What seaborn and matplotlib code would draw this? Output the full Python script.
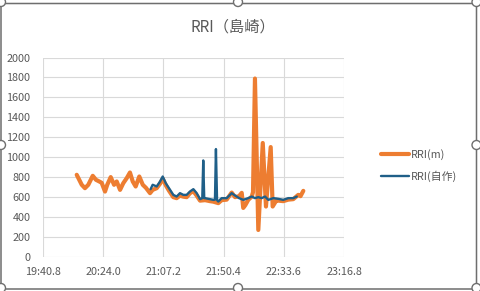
import matplotlib
matplotlib.use("Agg")
import matplotlib.pyplot as plt
from matplotlib.patches import FancyBboxPatch, Ellipse
import seaborn as sns
import pandas as pd

# ---- data (time in seconds, RRI in ms) ----
orange_t = [1205.0, 1208.6, 1210.9, 1213.3, 1216.5, 1218.8, 1221.2, 1222.9, 1225.3, 1226.9,
            1229.4, 1231.8, 1233.7, 1236.1, 1238.4, 1240.9, 1243.2, 1245.2, 1247.3, 1249.9,
            1252.4, 1254.7, 1257.6, 1259.5, 1262.4, 1264.8, 1266.7, 1268.9, 1271.2, 1274.3,
            1276.7, 1279.1, 1281.5, 1283.9, 1286.3, 1288.7, 1291.1, 1293.5, 1297.1, 1300.6,
            1303.0, 1306.6, 1309.0, 1312.6, 1316.2, 1318.6, 1321.5, 1323.4, 1324.5, 1326.0,
            1328.1, 1330.6, 1331.5, 1332.9, 1335.3, 1338.5, 1340.8, 1344.2, 1345.6, 1348.5,
            1349.7, 1353.2, 1356.8, 1360.4, 1364.0, 1365.6, 1367.6]
orange_v = [824, 724, 690, 724, 814, 774, 757, 744, 656, 724,
            801, 724, 757, 673, 740, 791, 847, 757, 707, 807,
            724, 693, 640, 673, 690, 735, 785, 720, 665, 600,
            590, 615, 605, 600, 640, 660, 615, 565, 570, 560,
            555, 540, 570, 575, 646, 600, 610, 643, 492, 520,
            573, 606, 650, 1789, 271, 1143, 506, 1102, 506, 573,
            565, 560, 575, 580, 623, 610, 663]

blue_t = [1258.0, 1259.5, 1262.4, 1264.8, 1266.7, 1268.9, 1271.2, 1274.3, 1276.7, 1279.1,
          1281.5, 1283.9, 1286.3, 1288.7, 1291.1, 1293.5, 1295.1, 1295.8, 1296.5, 1297.1,
          1300.6, 1303.0, 1304.2, 1304.9, 1305.7, 1306.6, 1309.0, 1312.6, 1316.2, 1318.6,
          1321.5, 1324.5, 1328.1, 1330.6, 1332.9, 1335.3, 1337.7, 1340.1, 1342.5, 1346.1,
          1349.7, 1353.2, 1356.8, 1360.4, 1362.9]
blue_v = [680, 724, 707, 757, 807, 740, 690, 623, 606, 640,
          623, 623, 657, 680, 640, 580, 590, 968, 590, 590,
          580, 573, 575, 1082, 570, 556, 590, 590, 640, 617,
          590, 573, 590, 606, 590, 600, 590, 606, 573, 590,
          583, 573, 590, 590, 606]

series_names = ["RRI(m)", "RRI(自作)"]
title = "RRI（島崎）"
x_ticks = [1180.8, 1224.0, 1267.2, 1310.4, 1353.6, 1396.8]
x_tick_labels = ["19:40.8", "20:24.0", "21:07.2", "21:50.4", "22:33.6", "23:16.8"]
y_ticks = [0, 200, 400, 600, 800, 1000, 1200, 1400, 1600, 1800, 2000]

# ---- style ----
sns.set_theme(style="white")
plt.rcParams["font.family"] = ["Noto Sans CJK JP", "DejaVu Sans"]
text_col = "#595959"
grid_col = "#D9D9D9"
orange = "#ED7D31"
blue = "#1F5F88"

fig = plt.figure(figsize=(4.8, 2.91), dpi=100)
fig.patch.set_facecolor("white")
ax = fig.add_axes([43 / 480, 1 - 257 / 291, (344 - 43) / 480, (257 - 57.5) / 291])
ax.set_facecolor("white")

df_o = pd.DataFrame({"t": orange_t, "v": orange_v})
df_b = pd.DataFrame({"t": blue_t, "v": blue_v})
sns.lineplot(data=df_o, x="t", y="v", ax=ax, color=orange, linewidth=3.0,
             label=series_names[0], sort=False, solid_joinstyle="round", solid_capstyle="round")
sns.lineplot(data=df_b, x="t", y="v", ax=ax, color=blue, linewidth=1.7,
             label=series_names[1], sort=False, solid_joinstyle="round", solid_capstyle="round")

ax.set_xlim(x_ticks[0], x_ticks[-1])
ax.set_ylim(0, 2000)
ax.set_xticks(x_ticks, x_tick_labels)
ax.set_yticks(y_ticks)
ax.grid(True, color=grid_col, linewidth=0.8)
ax.set_axisbelow(True)
for s in ax.spines.values():
    s.set_visible(False)
ax.tick_params(axis="both", length=0, labelsize=7.8, colors=text_col)
ax.tick_params(axis="y", pad=9)
ax.tick_params(axis="x", pad=7)
ax.set_xlabel("")
ax.set_ylabel("")

ax.legend_.remove()
handles, labels = ax.get_legend_handles_labels()
leg = fig.legend(handles, labels, loc="center left", bbox_to_anchor=(381 / 480, 1 - 165.5 / 291),
                 frameon=False, fontsize=7.8, handlelength=2.6, handletextpad=0.15,
                 labelspacing=1.05, borderpad=0, borderaxespad=0)
for t in leg.get_texts():
    t.set_color(text_col)

fig.text(232.5 / 480, 1 - 27 / 291, title, ha="center", va="center", fontsize=11, color=text_col)

# chart frame with selection handles
frame = FancyBboxPatch((1 / 480, 2 / 291), 475.5 / 480, 285.5 / 291,
                       boxstyle="round,pad=0,rounding_size=0.008", transform=fig.transFigure,
                       facecolor="none", edgecolor="#6E6E6E", linewidth=1.1, zorder=10)
fig.patches.append(frame)
hx = [1, 238, 476.5]
hy = [2, 145, 288]
for px in hx:
    for py in hy:
        if px == 238 and py == 145:
            continue
        e = Ellipse((px / 480, 1 - py / 291), 9 / 480, 9 / 291, transform=fig.transFigure,
                    facecolor="white", edgecolor="#6E6E6E", linewidth=1.0, zorder=11)
        fig.patches.append(e)

fig.savefig("out.png", dpi=100)
